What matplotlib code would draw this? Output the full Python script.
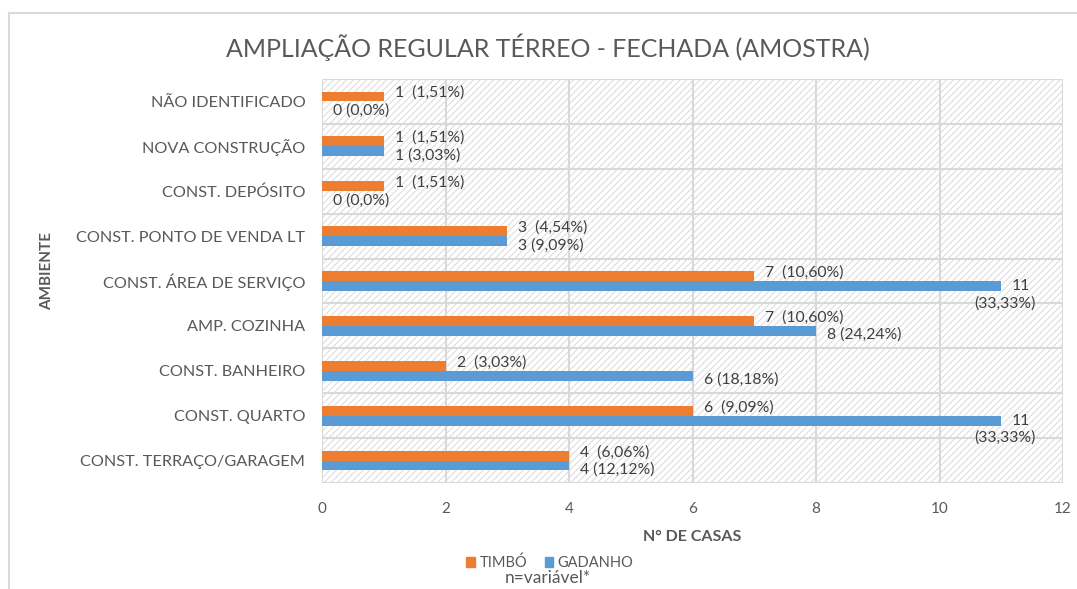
import matplotlib
matplotlib.use("Agg")
import matplotlib.pyplot as plt
from matplotlib.patches import Rectangle
from matplotlib.lines import Line2D
import numpy as np

plt.rcParams['font.family'] = ['Lato', 'DejaVu Sans']
plt.rcParams['hatch.linewidth'] = 0.7

categories = ["CONST. TERRAÇO/GARAGEM", "CONST. QUARTO", "CONST. BANHEIRO",
              "AMP. COZINHA", "CONST. ÁREA DE SERVIÇO", "CONST. PONTO DE VENDA LT",
              "CONST. DEPÓSITO", "NOVA CONSTRUÇÃO", "NÃO IDENTIFICADO"]
timbo = [4, 6, 2, 7, 7, 3, 1, 1, 1]
timbo_pct = ["6,06%", "9,09%", "3,03%", "10,60%", "10,60%", "4,54%", "1,51%", "1,51%", "1,51%"]
gadanho = [4, 11, 6, 8, 11, 3, 0, 1, 0]
gadanho_pct = ["12,12%", "33,33%", "18,18%", "24,24%", "33,33%", "9,09%", "0,0%", "3,03%", "0,0%"]
series_names = ["TIMBÓ", "GADANHO"]
xticks = [0, 2, 4, 6, 8, 10, 12]

ORANGE = "#ED7D31"
BLUE = "#5B9BD5"
GRID = "#D9D9D9"
TXT = "#595959"
LBL = "#404040"

fig = plt.figure(figsize=(10.77, 5.89), dpi=100)
ax = fig.add_axes([322/1077, 1-483/589, (1063-322)/1077, (483-79)/589])

y = np.arange(len(categories))
h = 0.22

ax.set_xlim(0, 12)
ax.set_ylim(-0.5, len(categories) - 0.5)

# hatched background
bg = Rectangle((0, 0), 1, 1, transform=ax.transAxes, facecolor="white",
               edgecolor="#DADADA", linewidth=0, hatch="/////", zorder=0)
ax.add_patch(bg)

for xv in xticks[1:]:
    ax.axvline(xv, color=GRID, lw=1.5, zorder=1)
for yb in np.arange(-0.5, len(categories) + 0.5, 1):
    ax.axhline(yb, color=GRID, lw=1.5, zorder=1)
ax.axvline(0, color=GRID, lw=1.5, zorder=1)

ax.barh(y + h/2, timbo, height=h, color=ORANGE, zorder=3, label=series_names[0])
ax.barh(y - h/2, gadanho, height=h, color=BLUE, zorder=3, label=series_names[1])

fs_lbl = 11.3
for i in range(len(categories)):
    ax.annotate(f"{timbo[i]}  ({timbo_pct[i]})", (timbo[i], y[i] + h/2),
                xytext=(8, 2.5), textcoords="offset points", ha="left", va="center",
                fontsize=fs_lbl, color=LBL, zorder=4)
    if gadanho[i] >= 10:
        ax.annotate(f"{gadanho[i]}", (gadanho[i], y[i] - h/2),
                    xytext=(14, 0), textcoords="offset points", ha="center", va="center",
                    fontsize=fs_lbl, color=LBL, zorder=4)
        ax.annotate(f"({gadanho_pct[i]})", (gadanho[i], y[i] - h/2),
                    xytext=(3, -12.5), textcoords="offset points", ha="center", va="center",
                    fontsize=fs_lbl, color=LBL, zorder=4)
    else:
        ax.annotate(f"{gadanho[i]} ({gadanho_pct[i]})", (gadanho[i], y[i] - h/2),
                    xytext=(8, -3), textcoords="offset points", ha="left", va="center",
                    fontsize=fs_lbl, color=LBL, zorder=4)

ax.set_yticks(y)
ax.set_yticklabels(categories, fontsize=11.7, color=TXT)
ax.set_xticks(xticks)
ax.set_xticklabels([str(v) for v in xticks], fontsize=11, color=TXT)
ax.tick_params(axis='both', length=0)
ax.tick_params(axis='y', pad=12)
ax.tick_params(axis='x', pad=14)
for s in ax.spines.values():
    s.set_visible(False)

ax.set_xlabel("N° DE CASAS", fontsize=11.5, fontweight="bold", color=TXT, labelpad=10)
fig.text(47/1077, 1-271/589, "AMBIENTE", rotation=90, fontsize=11, fontweight="bold",
         color=TXT, ha="center", va="center")

fig.text(548/1077, 1-47/589, "AMPLIAÇÃO REGULAR TÉRREO - FECHADA (AMOSTRA)",
         fontsize=18, color=TXT, ha="center", va="center")

handles = [Rectangle((0, 0), 1, 1, color=ORANGE), Rectangle((0, 0), 1, 1, color=BLUE)]
fig.legend(handles, series_names, loc="center", bbox_to_anchor=(550/1077, 1-563/589),
           ncol=2, frameon=False, fontsize=10.5, handlelength=0.6, handleheight=0.6,
           handletextpad=0.3, columnspacing=1.2, labelcolor=TXT)
fig.text(548/1077, 1-578/589, "n=variável*", fontsize=12.5, color=TXT, ha="center", va="center")

# chart frame
fig.add_artist(Line2D([9/1077, 9/1077], [0, 1-13/589], transform=fig.transFigure, color=GRID, lw=1.5))
fig.add_artist(Line2D([9/1077, 1], [1-13/589, 1-13/589], transform=fig.transFigure, color=GRID, lw=1.5))

fig.savefig("out.png", dpi=100)
